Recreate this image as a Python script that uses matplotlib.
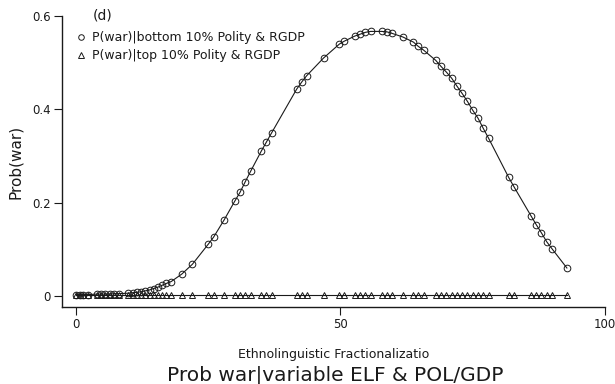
# Prob(war) against ethnolinguistic fractionalization, panel (d)
import matplotlib.pyplot as plt
from matplotlib.lines import Line2D

plt.rcParams["font.family"] = ["DejaVu Sans"]

# ELF values shared by both series
elf = [0, 0.7, 1.4, 2.2, 3.9, 4.7, 5.5, 6.4, 7.2, 8.1,
       9.9, 10.7, 11.5, 12.3, 13.1, 13.9, 14.7, 15.5, 16.3, 17.1, 18.0,
       20, 22, 25, 26, 28, 30, 31, 32, 33, 35, 36, 37,
       41.7, 42.7, 43.6, 46.8, 49.8, 50.7, 52.7, 53.7, 54.7, 55.7,
       57.8, 58.8, 59.7, 61.8, 63.8, 64.7, 65.7,
       68, 69, 70, 71, 72, 73, 74, 75, 76, 77, 78,
       81.8, 82.8, 86, 87, 88, 89, 90, 92.8]

# bottom 10% Polity & RGDP
p_bottom = [0.003, 0.003, 0.003, 0.003, 0.004, 0.004, 0.004, 0.004, 0.005, 0.005,
            0.006, 0.007, 0.008, 0.009, 0.011, 0.013, 0.016, 0.019, 0.023, 0.027, 0.031,
            0.047, 0.068, 0.111, 0.126, 0.163, 0.203, 0.222, 0.245, 0.267, 0.310, 0.330, 0.350,
            0.443, 0.459, 0.472, 0.510, 0.540, 0.546, 0.557, 0.561, 0.565, 0.567,
            0.567, 0.566, 0.563, 0.555, 0.544, 0.535, 0.527,
            0.505, 0.492, 0.480, 0.467, 0.450, 0.434, 0.417, 0.398, 0.381, 0.359, 0.338,
            0.254, 0.234, 0.172, 0.153, 0.135, 0.116, 0.101, 0.060]

# top 10% Polity & RGDP (flat, near zero)
p_top = [0.002] * len(elf)

fig = plt.figure(figsize=(6.15, 3.84), dpi=100)
ax = fig.add_axes([0.1008, 0.2005, 0.8829, 0.7578])

ink = "#1a1a1a"
ax.plot(elf, p_bottom, "-", color=ink, lw=0.8, marker="o", ms=4.8,
        mfc="none", mec=ink, mew=0.7)
ax.plot(elf, p_top, "-", color=ink, lw=0.8, marker="^", ms=4.8,
        mfc="none", mec=ink, mew=0.7)

ax.set_xlim(-2.65, 100)
ax.set_ylim(-0.0236, 0.6)
ax.set_xticks([0, 50, 100])
ax.set_xticklabels(["0", "50", "100"])
ax.set_yticks([0, 0.2, 0.4, 0.6])
ax.set_yticklabels(["0", "0.2", "0.4", "0.6"])
ax.tick_params(axis="both", direction="out", length=6, width=0.8,
               colors=ink, labelsize=8.5, pad=2)
for side in ("top", "right"):
    ax.spines[side].set_visible(False)
for side in ("left", "bottom"):
    ax.spines[side].set_linewidth(1.0)
    ax.spines[side].set_color(ink)

ax.set_ylabel("Prob(war)", fontsize=11, color=ink, labelpad=7)
ax.set_xlabel("Ethnolinguistic Fractionalizatio", fontsize=9, color=ink,
              labelpad=12)

ax.text(0.057, 1.003, "(d)", transform=ax.transAxes, fontsize=10,
        color=ink, va="center", ha="left")

handles = [
    Line2D([], [], ls="none", marker="o", ms=4, mfc="none", mec=ink, mew=0.7),
    Line2D([], [], ls="none", marker="^", ms=4, mfc="none", mec=ink, mew=0.7),
]
ax.legend(handles, ["P(war)|bottom 10% Polity & RGDP",
                    "P(war)|top 10% Polity & RGDP"],
          loc="upper left", bbox_to_anchor=(0.026, 0.948), frameon=False,
          fontsize=9, handlelength=0.8, handletextpad=0.45,
          labelspacing=0.4, borderaxespad=0, borderpad=0,
          labelcolor=ink)

fig.text(0.545, 0.008, "Prob war|variable ELF & POL/GDP", fontsize=14.5,
         color=ink, ha="center", va="baseline")

fig.savefig("out.png", dpi=100)
